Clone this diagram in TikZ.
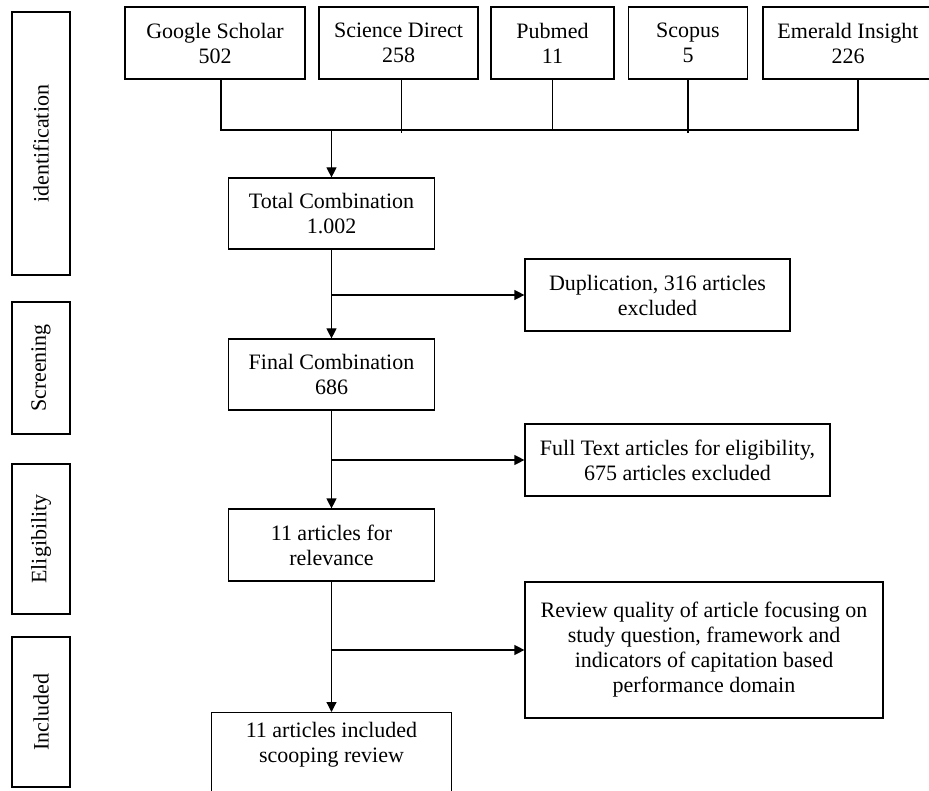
\documentclass[tikz,border=0pt]{standalone}
\usepackage{fontspec}
\setmainfont{Liberation Serif}
\usetikzlibrary{arrows.meta}
\begin{document}
\begin{tikzpicture}[x=1pt, y=-1pt, line width=1.2pt, >={Triangle[length=10pt,width=10pt]},
	font=\fontsize{22}{25}\selectfont,
	box/.style={draw, align=center, inner sep=3pt},
	phase/.style={draw, rotate=90, minimum height=58pt, inner sep=0pt}]
	\useasboundingbox (0,0) rectangle (929,791);
	% phases on the left
	\node[phase, minimum width=263pt] (idf) at (41,143.5) {identification};
	\node[phase, minimum width=132pt] (scr) at (41,368) {Screening};
	\node[phase, minimum width=150pt] (elg) at (41,539) {Eligibility};
	\node[phase, minimum width=150pt] (inc) at (41,712) {Included};
	% databases
	\node[box, minimum width=180pt, minimum height=72pt] (gs) at (215,43) {Google Scholar\\502};
	\node[box, minimum width=159pt, minimum height=72pt] (sd) at (398.5,43) {Science Direct\\258};
	\node[box, minimum width=123pt, minimum height=72pt] (pm) at (552.5,43) {Pubmed\\11};
	\node[box, minimum width=119pt, minimum height=72pt] (sc) at (688,43) {Scopus\\5};
	\node[box, minimum width=170pt, minimum height=72pt] (em) at (848,43) {Emerald Insight\\226};
	% main column
	\node[box, minimum width=206pt, minimum height=71pt] (total) at (331.5,213.5) {Total Combination\\1.002};
	\node[box, minimum width=206pt, minimum height=71pt] (final) at (331.5,374.5) {Final Combination\\686};
	\node[box, minimum width=206pt, minimum height=72pt] (rel) at (331.5,545) {11 articles for\\relevance};
	\node[box, minimum width=240pt, anchor=north, inner ysep=10pt] (incl) at (331.5,712) {11 articles included\\scooping review\\\strut};
	% excluded
	\node[box, minimum width=265pt, minimum height=72pt] (dup) at (657.5,295) {Duplication, 316 articles\\excluded};
	\node[box, minimum width=305pt, minimum height=72pt] (full) at (677.5,460) {Full Text articles for eligibility,\\675 articles excluded};
	\node[box, minimum width=358pt, minimum height=136pt] (rev) at (704,650) {Review quality of article focusing on\\study question, framework and\\indicators of capitation based\\performance domain};
	% connectors
	\coordinate (bus) at (0,130);
	\draw ([xshift=6pt]gs.south) -- ([xshift=6pt]gs.south |- bus) -- ([xshift=10pt]em.south |- bus) -- ([xshift=10pt]em.south);
	\draw ([xshift=3pt]sd.south) -- ([xshift=3pt,yshift=-3pt]sd.south |- bus);
	\draw (pm.south) -- (pm.south |- bus);
	\draw (sc.south) -- ([yshift=-3pt]sc.south |- bus);
	\draw[->] (total.north |- bus) -- (total.north);
	\draw[->] (total.south) -- (final.north);
	\draw[->] (total.south |- dup.west) -- (dup.west);
	\draw[->] (final.south) -- (rel.north);
	\draw[->] (final.south |- full.west) -- (full.west);
	\draw[->] (rel.south) -- (incl.north);
	\draw[->] (rel.south |- rev.west) -- (rev.west);
\end{tikzpicture}
\end{document}
